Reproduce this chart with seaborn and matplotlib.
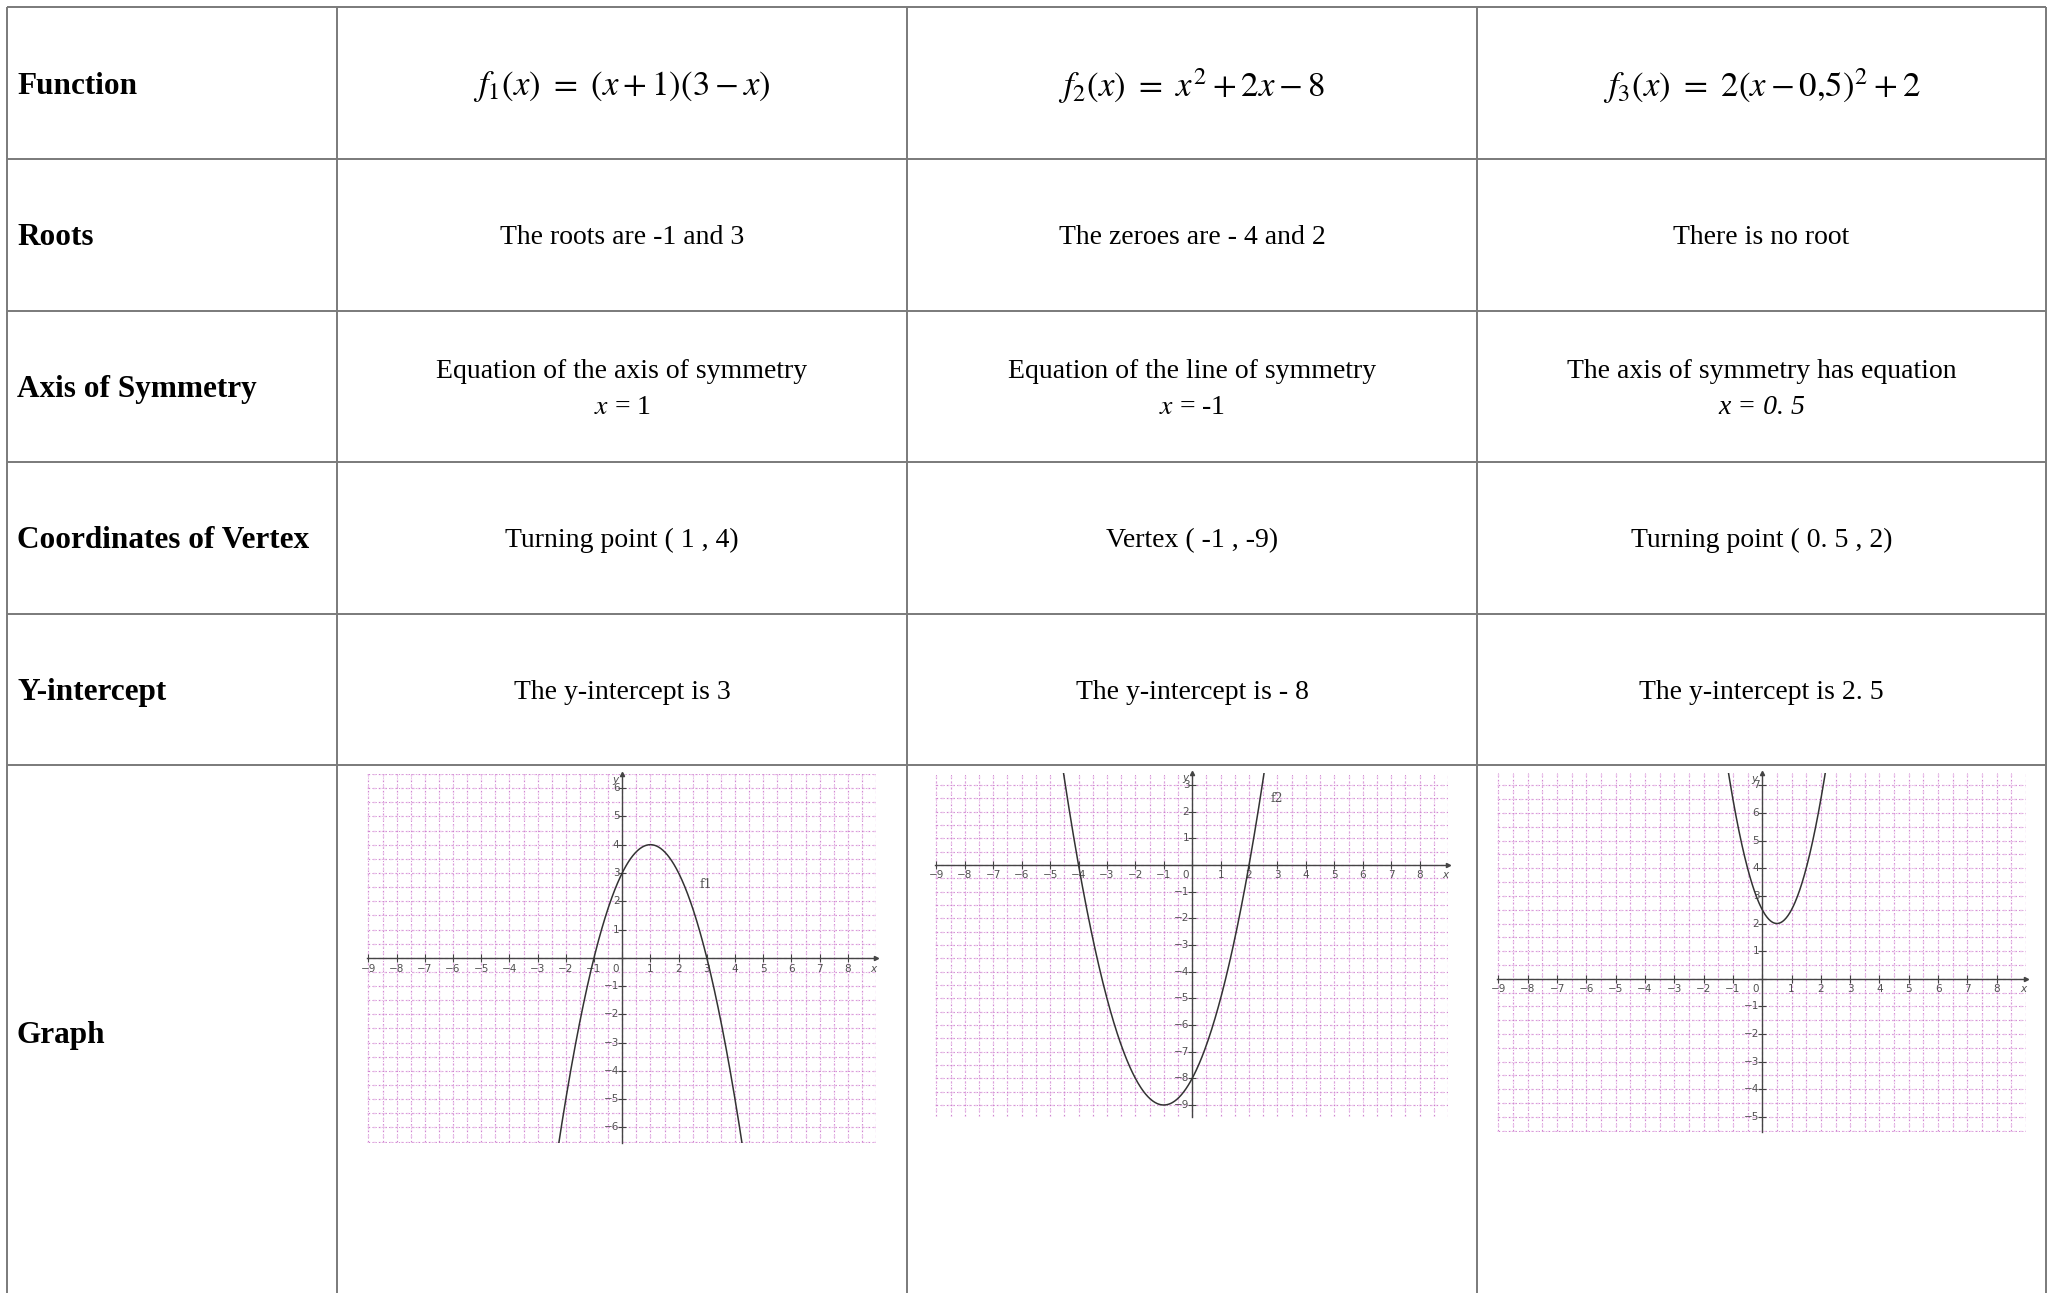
import numpy as np
import pandas as pd
import matplotlib
matplotlib.use("Agg")
import matplotlib.pyplot as plt
import seaborn as sns

# ---------------- data ----------------
row_labels = ["Function", "Roots", "Axis of Symmetry", "Coordinates of Vertex", "Y-intercept", "Graph"]
formulas = [r"$f_{1}(x)\ =\ (x+1)(3-x)$",
            r"$f_{2}(x)\ =\ x^{2}+2x-8$",
            r"$f_{3}(x)\ =\ 2(x-0{,}5)^{2}+2$"]
roots_text = ["The roots are -1 and 3", "The zeroes are - 4 and 2", "There is no root"]
axis_text = ["Equation of the axis of symmetry", "Equation of the line of symmetry",
             "The axis of symmetry has equation"]
axis_eq = [r"$x$ = 1", r"$x$ = -1", "x = 0. 5"]
vertex_text = ["Turning point ( 1 , 4)", "Vertex ( -1 , -9)", "Turning point ( 0. 5 , 2)"]
yint_text = ["The y-intercept is 3", "The y-intercept is - 8", "The y-intercept is 2. 5"]

# quadratic coefficients y = a x^2 + b x + c
coef_a = [-1, 1, 2]
coef_b = [2, 2, -2]
coef_c = [3, -8, 2.5]
graph_names = ["f1", "f2", ""]
graph_name_pos = [(2.75, 2.6), (2.75, 2.5), (None, None)]
graph_ylims = [(-6.55, 6.5), (-9.45, 3.45), (-5.55, 7.45)]
graph_xlim = (-9.05, 9.0)
x_tick_vals = list(range(-9, 9))

# ---------------- figure ----------------
sns.set_theme(style="white")
plt.rcParams["font.family"] = ["Liberation Serif", "DejaVu Serif"]
plt.rcParams["mathtext.fontset"] = "stix"
plt.rcParams["text.color"] = "black"

W, H = 2049, 1293
fig = plt.figure(figsize=(W / 100, H / 100), dpi=100)
fig.patch.set_facecolor("white")

base = fig.add_axes([0, 0, 1, 1])
base.set_xlim(0, W)
base.set_ylim(H, 0)
base.axis("off")

col_x = [7, 337, 907, 1477, 2046]
row_y = [7, 159, 310.5, 462, 613.5, 765]
line_col = "#7a7a7a"
for x in col_x:
    base.plot([x, x], [row_y[0], H + 5], color=line_col, lw=1.4, solid_capstyle="butt")
for y in row_y:
    base.plot([col_x[0], col_x[-1]], [y, y], color=line_col, lw=1.4, solid_capstyle="butt")

row_centers = [(row_y[i] + row_y[i + 1]) / 2 + 3 for i in range(5)] + [1035]
col_centers = [(col_x[i] + col_x[i + 1]) / 2 for i in range(1, 4)]

FS = 20
FSB = 22.5
for lab, yc in zip(row_labels, row_centers):
    base.text(17, yc, lab, fontsize=FSB, fontweight="bold", ha="left", va="center", color="black")

for j, cx in enumerate(col_centers):
    base.text(cx, row_centers[0], formulas[j], fontsize=25, ha="center", va="center", color="black")
    base.text(cx, row_centers[1], roots_text[j], fontsize=FS, ha="center", va="center", color="black")
    base.text(cx, row_centers[2] - 18, axis_text[j], fontsize=FS, ha="center", va="center", color="black")
    if j < 2:
        base.text(cx, row_centers[2] + 18, axis_eq[j], fontsize=FS, ha="center", va="center", color="black")
    else:
        base.text(cx, row_centers[2] + 18, axis_eq[j], fontsize=FS, ha="center", va="center",
                  style="italic", color="black")
    base.text(cx, row_centers[3], vertex_text[j], fontsize=FS, ha="center", va="center", color="black")
    base.text(cx, row_centers[4], yint_text[j], fontsize=FS, ha="center", va="center", color="black")

# ---------------- graphs ----------------
# (left, top, right, bottom) in pixels
graph_boxes = [(367, 774, 876, 1143), (935, 773, 1448, 1117), (1497, 773, 2026, 1132)]
tick_col = "#505050"
grid_dark = "#c46cc4"
grid_light = "#edc8ed"

for g in range(3):
    l, t, r, b = graph_boxes[g]
    ax = fig.add_axes([l / W, 1 - b / H, (r - l) / W, (b - t) / H])
    ax.set_facecolor("white")
    x0, x1 = graph_xlim
    y0, y1 = graph_ylims[g]
    ax.set_xlim(x0, x1)
    ax.set_ylim(y0, y1)

    # grid every half unit
    for gx in np.arange(-9, 9.01, 0.5):
        ax.axvline(gx, color=grid_light, lw=1.0, ls=(0, (2, 2)), zorder=0)
        ax.axvline(gx, color=grid_dark, lw=0.6, ls=(2, (1, 3)), zorder=0.5)
    for gy in np.arange(np.ceil(y0 * 2) / 2, y1 + 0.01, 0.5):
        ax.axhline(gy, color=grid_light, lw=1.0, ls=(0, (2, 2)), zorder=0)
        ax.axhline(gy, color=grid_dark, lw=0.6, ls=(2, (1, 3)), zorder=0.5)

    # axes through origin
    for s in ["top", "right"]:
        ax.spines[s].set_visible(False)
    ax.spines["left"].set_position(("data", 0))
    ax.spines["bottom"].set_position(("data", 0))
    for s in ["left", "bottom"]:
        ax.spines[s].set_color("#444444")
        ax.spines[s].set_linewidth(1.0)
        ax.spines[s].set_zorder(3)
    ax.set_xticks(x_tick_vals)
    yt = [v for v in range(int(np.ceil(y0)), int(np.floor(y1)) + 1)]
    ax.set_yticks(yt)
    ax.tick_params(axis="both", direction="inout", length=6, width=0.8, color="#444444",
                   labelbottom=False, labelleft=False, bottom=True, left=True)
    ax.grid(False)
    ax.plot(1, 0, ">", color="#444444", ms=3, transform=ax.get_yaxis_transform(), clip_on=False, zorder=4)
    ax.plot(0, 1, "^", color="#444444", ms=3, transform=ax.get_xaxis_transform(), clip_on=False, zorder=4)

    # tick labels
    dy = (y1 - y0) / 370 * 11
    for v in x_tick_vals:
        if v == 0:
            ax.text(-0.12, -dy, "0", fontsize=7.5, family="DejaVu Sans", color=tick_col,
                    ha="right", va="center")
        else:
            ax.text(v, -dy, "\u2212" + str(-v) if v < 0 else str(v), fontsize=7.5,
                    family="DejaVu Sans", color=tick_col, ha="center", va="center")
    ax.text(8.9, -dy, "x", fontsize=7.5, family="DejaVu Sans", color=tick_col,
            ha="center", va="center", style="italic")
    for v in yt:
        if v == 0:
            continue
        lab = "\u2212" + str(-v) if v < 0 else str(v)
        ax.text(-0.1, v, lab, fontsize=7.5, family="DejaVu Sans", color=tick_col,
                ha="right", va="center")
    ax.text(-0.15, y1 - 0.2, "y", fontsize=7.5, family="DejaVu Sans", color=tick_col,
            ha="right", va="center", style="italic")

    # curve
    xs = np.linspace(-9, 9, 901)
    ys = coef_a[g] * xs ** 2 + coef_b[g] * xs + coef_c[g]
    df = pd.DataFrame({"x": xs, "y": ys})
    sns.lineplot(data=df, x="x", y="y", ax=ax, color="#333333", lw=1.1, sort=False, zorder=5)
    ax.set_xlabel("")
    ax.set_ylabel("")
    ax.set_xlim(x0, x1)
    ax.set_ylim(y0, y1)
    if graph_names[g]:
        px, py = graph_name_pos[g]
        ax.text(px, py, graph_names[g], fontsize=9, color="#555555", ha="left", va="center",
                family="DejaVu Serif")

fig.savefig("out.png", dpi=100, facecolor="white")
